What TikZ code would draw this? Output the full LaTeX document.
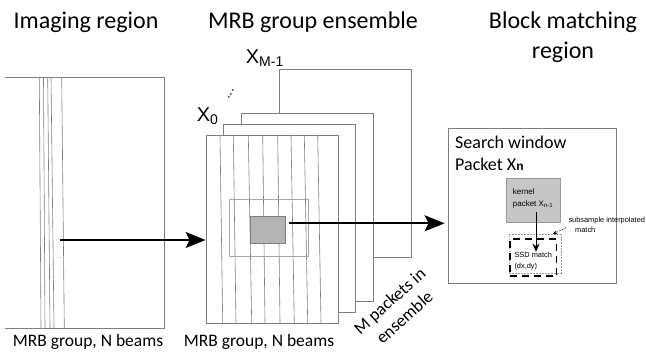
\documentclass[tikz,border=0pt]{standalone}
\usepackage{fontspec}
\setmainfont{Carlito}
\newfontfamily\arialfont{Liberation Sans}
\usetikzlibrary{arrows.meta}
\definecolor{linegray}{HTML}{7F7F7F}
\definecolor{kernelgray}{HTML}{B4B4B4}
\definecolor{lightkernel}{HTML}{C6C6C6}
\tikzset{
  panel/.style={draw=linegray, line width=0.8pt},
  packet/.style={draw=linegray, line width=0.8pt, fill=white, minimum width=132pt, minimum height=188pt, inner sep=0pt},
  beam/.style={draw=linegray, line width=0.6pt},
  bigarrow/.style={line width=2pt, -{Stealth[length=20pt,width=16pt,inset=4pt]}},
  title/.style={font=\fontsize{24}{26}\selectfont, anchor=base, inner sep=0pt},
  caption/.style={font=\fontsize{17.5}{19}\selectfont, anchor=base, inner sep=0pt},
  xlabel/.style={font=\arialfont\fontsize{20}{22}\selectfont, anchor=base west, inner sep=0pt},
  small/.style={font=\arialfont\fontsize{8}{9}\selectfont, anchor=base west, inner sep=0pt},
  tinylbl/.style={font=\arialfont\fontsize{7.4}{8}\selectfont, anchor=base west, inner sep=0pt},
}

\begin{document}
\begin{tikzpicture}[x=1pt,y=-1pt]
\useasboundingbox (0,0) rectangle (646,354);
% titles
\node[title] (imgTitle) at (86,28) {Imaging region};
\node[title] (ensTitle) at (313,28) {MRB group ensemble};
\node[title] (bmTitle) at (563,28) {Block matching};
\node[title] (bmTitleB) at (563,58) {region};

% imaging region
\draw[panel] (5,77.7) -- (164,77.7) -- (164,328) -- (5,328);
\foreach \t/\b in {39.3/41, 43.5/45, 47.7/50, 51/54, 61.7/64.3}
  \draw[beam] (\t,77.7) -- (\b,328);
\node[font=\arialfont\fontsize{6}{6}\selectfont, text=linegray, inner sep=0pt] (imgDots) at (59,258) {...};
\coordinate (imgOut) at (60,240);
\node[caption] (imgCap) at (88,346) {MRB group, N beams};

% ensemble of packets, back to front
\node[packet] (pkM) at (345.5,163) {};
\node[packet] (pkB) at (307.5,207.5) {};
\node[packet] (pkA) at (289,218.5) {};
\node[packet] (pk0) at (272,229) {};
\foreach \t/\b in {220/222.7, 233.3/236, 248.3/251.7, 262.7/265, 277.7/280, 291/294.3, 304.3/307.7, 317.7/321}
  \draw[beam] (\t,135) -- (\b,323);
\draw[draw=gray!70, line width=0.7pt] (229,199.3) rectangle (308.3,256);
\node[draw=linegray, fill=kernelgray, line width=0.7pt, minimum width=35.7pt, minimum height=27.3pt, inner sep=0pt] (kern) at (267.9,229.7) {};
\node[xlabel] (xZero) at (196.7,121.7) {X\textsubscript{0}};
\node[xlabel] (xLast) at (245.7,63.3) {X\textsubscript{M-1}};
\node[font=\arialfont\fontsize{14}{14}\selectfont, rotate=60, inner sep=0pt] (xDots) at (231,94) {...};
\node[caption, rotate=42, align=center, anchor=center] (ensCap) at (397,309) {M packets in\\[3pt]ensemble};
\node[caption] (ensCapB) at (259,346) {MRB group, N beams};

% block matching region
\node[draw=linegray, line width=0.8pt, minimum width=168pt, minimum height=155pt, inner sep=0pt] (match) at (532,205.5) {};
\node[font=\fontsize{18}{20}\selectfont, anchor=base west, inner sep=0pt] (searchLbl) at (455,148.3) {Search window};
\node[font=\fontsize{18}{20}\selectfont, anchor=base west, inner sep=0pt] (packetLbl) at (455,170) {Packet X{\arialfont\bfseries\fontsize{12}{12}\selectfont n}};
\node[draw=gray!80, fill=lightkernel, line width=0.7pt, minimum width=54.7pt, minimum height=44pt, inner sep=0pt] (rkern) at (533.3,200) {};
\node[small] (kernLbl) at (512.7,194) {kernel};
\node[small] (kernLblB) at (512.7,206) {packet X\textsubscript{n-1}};
\node[draw=gray!80, dash pattern=on 1.5pt off 1.5pt, line width=0.6pt, minimum width=51.7pt, minimum height=39pt, inner sep=0pt] (subWin) at (535,253.5) {};
\node[draw, dash pattern=on 7pt off 5pt, line width=1.6pt, minimum width=46.7pt, minimum height=37pt, inner sep=0pt] (ssdWin) at (533.3,257.5) {};
\node[tinylbl] (ssdLbl) at (514.3,257.3) {SSD match};
\node[tinylbl] (ssdLblB) at (514.3,268.7) {(dx,dy)};
\node[tinylbl] (subLbl) at (568.3,222) {subsample interpolated};
\node[tinylbl] (subLblB) at (575,232) {match};
\coordinate (rkOut) at (536,211.7);
\coordinate (ssdIn) at (536,251.7);
\coordinate (subFrom) at (566,227.7);
\coordinate (subTip) at (553,234);

% connectors
\draw[bigarrow] (imgOut) -- (imgOut -| pk0.west);
\coordinate (kOut) at (289,223.3);
\draw[bigarrow, shorten >=3pt] (kOut) -- (kOut -| match.west);
\draw[line width=1pt, -{Stealth[length=8pt,width=7pt]}] (rkOut) -- (ssdIn);
\draw[line width=0.6pt, dash pattern=on 1.5pt off 1.5pt, -{Stealth[length=4pt,width=4pt]}] (subFrom) -- (subTip);
\end{tikzpicture}
\end{document}
